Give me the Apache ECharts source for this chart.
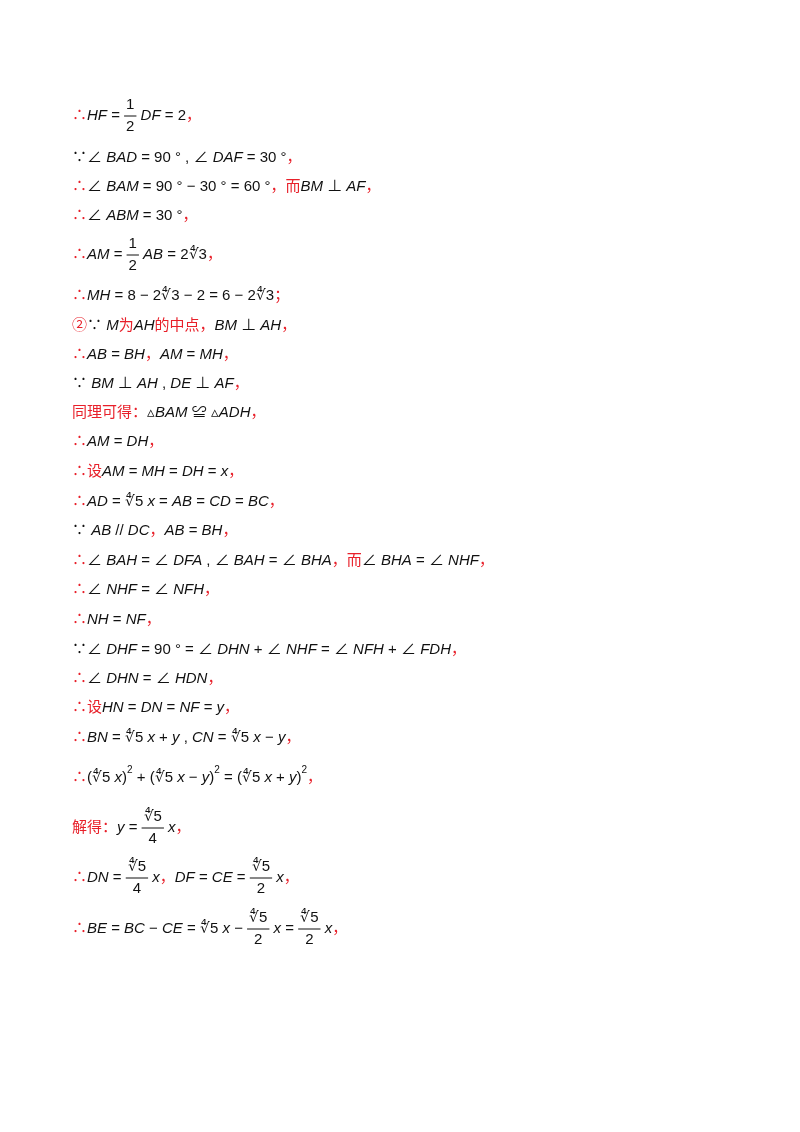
<!DOCTYPE html>
<html><head><meta charset="utf-8">
<script src="https://cdn.jsdelivr.net/npm/echarts@6/dist/echarts.min.js"></script>
<style>html,body{margin:0;background:#fff}#main{width:800px;height:1132px}</style>
</head><body><div id="main"></div>
<script>
// r = red text, m = math (italic), u = upright, f = fraction [num, den], s = superscript
var R = '∜';
var lines = [
  [['r','∴'],['m','HF'],['u',' = '],['f','1','2'],['m',' DF'],['u',' = 2'],['r','，']],
  [['u','∵∠ '],['m','BAD'],['u',' = 90 ° , ∠ '],['m','DAF'],['u',' = 30 °'],['r','，']],
  [['r','∴'],['u','∠ '],['m','BAM'],['u',' = 90 ° − 30 ° = 60 °'],['r','，而'],['m','BM'],['u',' ⊥ '],['m','AF'],['r','，']],
  [['r','∴'],['u','∠ '],['m','ABM'],['u',' = 30 °'],['r','，']],
  [['r','∴'],['m','AM'],['u',' = '],['f','1','2'],['m',' AB'],['u',' = 2'+R+'3'],['r','，']],
  [['r','∴'],['m','MH'],['u',' = 8 − 2'+R+'3 − 2 = 6 − 2'+R+'3'],['r','；']],
  [['r','②'],['u','∵ '],['m','M'],['r','为'],['m','AH'],['r','的中点，'],['m','BM'],['u',' ⊥ '],['m','AH'],['r','，']],
  [['r','∴'],['m','AB'],['u',' = '],['m','BH'],['r','，'],['m','AM'],['u',' = '],['m','MH'],['r','，']],
  [['u','∵ '],['m','BM'],['u',' ⊥ '],['m','AH'],['u',' , '],['m','DE'],['u',' ⊥ '],['m','AF'],['r','，']],
  [['r','同理可得：'],['u','▵'],['m','BAM'],['u',' ≌ ▵'],['m','ADH'],['r','，']],
  [['r','∴'],['m','AM'],['u',' = '],['m','DH'],['r','，']],
  [['r','∴设'],['m','AM'],['u',' = '],['m','MH'],['u',' = '],['m','DH'],['u',' = '],['m','x'],['r','，']],
  [['r','∴'],['m','AD'],['u',' = '+R+'5 '],['m','x'],['u',' = '],['m','AB'],['u',' = '],['m','CD'],['u',' = '],['m','BC'],['r','，']],
  [['u','∵ '],['m','AB'],['u',' // '],['m','DC'],['r','，'],['m','AB'],['u',' = '],['m','BH'],['r','，']],
  [['r','∴'],['u','∠ '],['m','BAH'],['u',' = ∠ '],['m','DFA'],['u',' , ∠ '],['m','BAH'],['u',' = ∠ '],['m','BHA'],['r','，而'],['u','∠ '],['m','BHA'],['u',' = ∠ '],['m','NHF'],['r','，']],
  [['r','∴'],['u','∠ '],['m','NHF'],['u',' = ∠ '],['m','NFH'],['r','，']],
  [['r','∴'],['m','NH'],['u',' = '],['m','NF'],['r','，']],
  [['u','∵∠ '],['m','DHF'],['u',' = 90 ° = ∠ '],['m','DHN'],['u',' + ∠ '],['m','NHF'],['u',' = ∠ '],['m','NFH'],['u',' + ∠ '],['m','FDH'],['r','，']],
  [['r','∴'],['u','∠ '],['m','DHN'],['u',' = ∠ '],['m','HDN'],['r','，']],
  [['r','∴设'],['m','HN'],['u',' = '],['m','DN'],['u',' = '],['m','NF'],['u',' = '],['m','y'],['r','，']],
  [['r','∴'],['m','BN'],['u',' = '+R+'5 '],['m','x'],['u',' + '],['m','y'],['u',' , '],['m','CN'],['u',' = '+R+'5 '],['m','x'],['u',' − '],['m','y'],['r','，']],
  [['r','∴'],['u','('+R+'5 '],['m','x'],['u',')'],['s','2'],['u',' + ('+R+'5 '],['m','x'],['u',' − '],['m','y'],['u',')'],['s','2'],['u',' = ('+R+'5 '],['m','x'],['u',' + '],['m','y'],['u',')'],['s','2'],['r','，']],
  [['r','解得：'],['m','y'],['u',' = '],['f',R+'5','4'],['m',' x'],['r','，']],
  [['r','∴'],['m','DN'],['u',' = '],['f',R+'5','4'],['m',' x'],['r','，'],['m','DF'],['u',' = '],['m','CE'],['u',' = '],['f',R+'5','2'],['m',' x'],['r','，']],
  [['r','∴'],['m','BE'],['u',' = '],['m','BC'],['u',' − '],['m','CE'],['u',' = '+R+'5 '],['m','x'],['u',' − '],['f',R+'5','2'],['m',' x'],['u',' = '],['f',R+'5','2'],['m',' x'],['r','，']]
];
var lineY = [116,158,187,216,255,296,326,355,384,413,442,472,502,531,561,590,620,650,679,708,738,778,828,878,929];

var FS = 15, FAM = '"Liberation Sans","Noto Sans CJK SC",sans-serif';
var cv = document.createElement('canvas').getContext('2d');
function fontOf(style, size) { return (style === 'm' ? 'italic ' : '') + size + 'px ' + FAM; }
function w(t, style, size) { cv.font = fontOf(style, size); return cv.measureText(t).width; }
function txt(t, x, y, style, size, align) {
  return { type: 'text', x: x, y: y, style: { text: t, font: fontOf(style, size), fill: style === 'r' ? '#e8202a' : '#111',
    textAlign: align || 'left', textVerticalAlign: 'middle' } };
}
var els = [];
lines.forEach(function (ln, i) {
  var x = 72, y = lineY[i];
  ln.forEach(function (sg) {
    var k = sg[0];
    if (k === 'f') {
      var fw = Math.max(w(sg[1], 'u', FS), w(sg[2], 'u', FS)) + 4;
      els.push(txt(sg[1], x + fw / 2, y - 11, 'u', FS, 'center'));
      els.push(txt(sg[2], x + fw / 2, y + 11, 'u', FS, 'center'));
      els.push({ type: 'line', shape: { x1: x, y1: y, x2: x + fw, y2: y }, style: { stroke: '#111', lineWidth: 1 } });
      x += fw;
    } else if (k === 's') {
      els.push(txt(sg[1], x, y - 8, 'u', 10));
      x += w(sg[1], 'u', 10);
    } else {
      els.push(txt(sg[1], x, y, k, FS));
      x += w(sg[1], k, FS);
    }
  });
});
var chart = echarts.init(document.getElementById('main'));
chart.setOption({ backgroundColor: '#fff', graphic: { elements: els } });
</script></body></html>
